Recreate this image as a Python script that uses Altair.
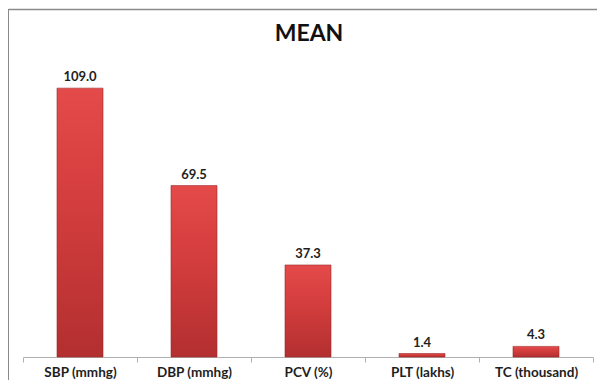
import altair as alt
import pandas as pd

categories = ["SBP (mmhg)", "DBP (mmhg)", "PCV (%)", "PLT (lakhs)", "TC (thousand)"]
values = [109.0, 69.5, 37.3, 1.4, 4.3]
labels = ["109.0", "69.5", "37.3", "1.4", "4.3"]
chart_title = "MEAN"

df = pd.DataFrame({"cat": categories, "val": values, "lab": labels})
one_df = pd.DataFrame({"t": [chart_title]})

FONT = "Lato"

x_enc = alt.X("cat:N", sort=categories, title=None,
              scale=alt.Scale(paddingInner=0, paddingOuter=0),
              axis=alt.Axis(labelAngle=0, labelFont=FONT, labelFontWeight="bold",
                            labelFontSize=13.5, labelColor="#1e1e1e", labelPadding=3,
                            domainColor="#b0b0b0", tickColor="#b0b0b0", tickSize=5,
                            tickBand="extent", ticks=True))
y_enc = alt.Y("val:Q", scale=alt.Scale(domain=[0, 120]), axis=None)

grad = alt.Gradient(
    gradient="linear",
    stops=[alt.GradientStop(color="#e44a4a", offset=0),
           alt.GradientStop(color="#d53e3e", offset=0.4),
           alt.GradientStop(color="#b32f30", offset=1)],
    x1=0, x2=0, y1=0, y2=1,
)

base = alt.Chart(df)

bars = base.mark_bar(size=46, color=grad, stroke="#9c2a2a", strokeWidth=0.6).encode(
    x=x_enc, y=y_enc)

text = base.mark_text(dy=-11, font=FONT, fontWeight="bold", fontSize=13,
                      color="#1e1e1e").encode(
    x=alt.X("cat:N", sort=categories), y="val:Q", text="lab:N")

title_mark = alt.Chart(one_df).mark_text(font=FONT, fontSize=23, fontWeight="bold",
                                         color="#111111", baseline="middle",
                                         align="center").encode(
    x=alt.value(286), y=alt.value(-27), text="t:N")

left_border = alt.Chart(one_df).mark_rule(color="#8a8a8a", strokeWidth=1).encode(
    x=alt.value(-14.5), y=alt.value(-52), y2=alt.value(400))
top_border = alt.Chart(one_df).mark_rule(color="#8a8a8a", strokeWidth=1.5).encode(
    x=alt.value(-14.5), x2=alt.value(600), y=alt.value(-51.5))

chart = alt.layer(bars, text, title_mark, left_border, top_border).properties(
    width=570, height=296,
    autosize=alt.AutoSizeParams(type="none"),
    padding={"left": 15, "top": 53, "right": 4, "bottom": 23},
).configure_view(stroke=None)

chart.save("out.html", embed_options={"renderer": "svg", "actions": False})
